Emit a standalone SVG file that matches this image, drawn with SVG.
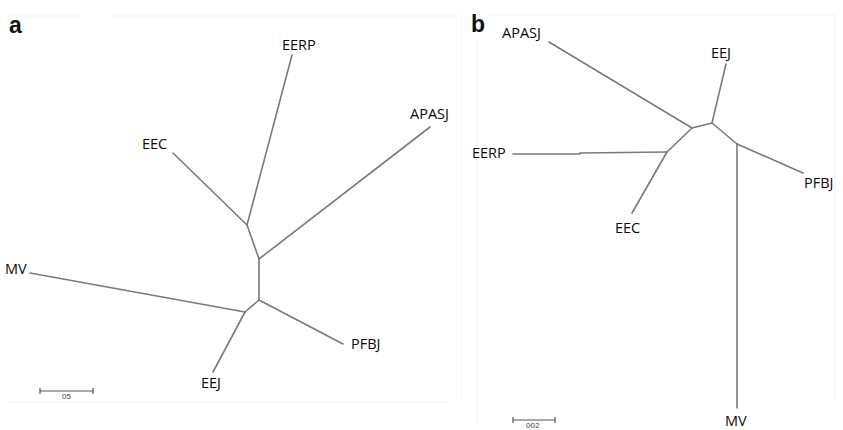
<svg xmlns="http://www.w3.org/2000/svg" width="843" height="430" viewBox="0 0 843 430">
<style>
.br{fill:none;stroke:#7a7a7a;stroke-width:1.6;stroke-linejoin:round;stroke-linecap:round}
.lb{font-family:"Open Sans","Noto Sans",sans-serif;font-size:14.5px;fill:#0a0a0a}
.pl{font-family:"Liberation Sans",Arial,sans-serif;font-size:23px;font-weight:bold;fill:#111}
.fr{fill:none;stroke:#f5f5f5;stroke-width:1}
.sb{fill:none;stroke:#555;stroke-width:1.2}
.st{font-family:"Liberation Sans",Arial,sans-serif;font-size:8px;fill:#444}
</style>
<rect width="843" height="430" fill="#fff"/>
<g id="frames">
<path class="fr" d="M5,16 H80 M107,16 H462 V400 M7,402 H450"/>
<path class="fr" d="M490,15 H835 V400 M477,40 V425"/>
</g>
<text class="pl" x="9" y="33">a</text>
<text class="pl" x="471" y="32">b</text>
<g id="connectors-a">
<polyline class="br" points="292,55 247,225 259,259 259,300 245,312"/>
<line class="br" x1="173" y1="153" x2="247" y2="225"/>
<line class="br" x1="430" y1="127" x2="259" y2="259"/>
<line class="br" x1="343" y1="344" x2="259" y2="300"/>
<line class="br" x1="30" y1="273" x2="245" y2="312"/>
<line class="br" x1="213" y1="372" x2="245" y2="312"/>
</g>
<g id="a-EERP"><text class="lb" x="282" y="50">EERP</text></g>
<g id="a-EEC"><text class="lb" x="142" y="149">EEC</text></g>
<g id="a-APASJ"><text class="lb" x="410" y="119">APASJ</text></g>
<g id="a-MV"><text class="lb" x="5" y="274">MV</text></g>
<g id="a-PFBJ"><text class="lb" x="351" y="349">PFBJ</text></g>
<g id="a-EEJ"><text class="lb" x="201" y="388">EEJ</text></g>
<g id="scale-a">
<path class="sb" d="M40,391 H93 M40,388 V394 M93,388 V394"/>
<text class="st" x="62" y="399">05</text>
</g>
<g id="connectors-b">
<polyline class="br" points="632,213 667,152 692,128 712,123 737,144 737,408"/>
<line class="br" x1="549" y1="42" x2="692" y2="128"/>
<line class="br" x1="726" y1="64" x2="712" y2="123"/>
<line class="br" x1="803" y1="173" x2="737" y2="144"/>
<polyline class="br" points="513,154 580,154 580,153 667,152"/>
</g>
<g id="b-APASJ"><text class="lb" x="502" y="38">APASJ</text></g>
<g id="b-EEJ"><text class="lb" x="711" y="58">EEJ</text></g>
<g id="b-EERP"><text class="lb" x="472" y="158">EERP</text></g>
<g id="b-PFBJ"><text class="lb" x="804" y="188">PFBJ</text></g>
<g id="b-EEC"><text class="lb" x="615" y="233">EEC</text></g>
<g id="b-MV"><text class="lb" x="725" y="426">MV</text></g>
<g id="scale-b">
<path class="sb" d="M513,420 H555 M513,417 V423 M555,417 V423"/>
<text class="st" x="526" y="428">002</text>
</g>
</svg>
